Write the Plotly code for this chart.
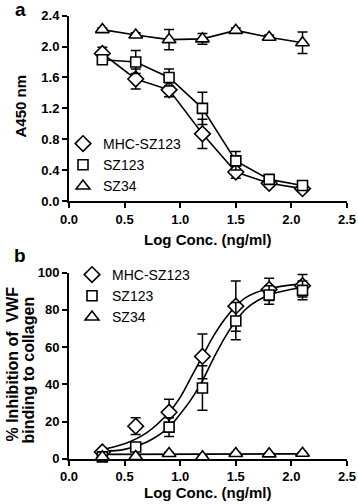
import plotly.graph_objects as go

# ---------------- data ----------------
log_conc = [0.3, 0.6, 0.9, 1.2, 1.5, 1.8, 2.1]

# panel a: A450 nm
a_mhc = [1.91, 1.58, 1.44, 0.87, 0.375, 0.23, 0.16]
a_mhc_err = [0.08, 0.13, 0.09, 0.19, 0.08, 0.05, 0.03]
a_sz123 = [1.83, 1.80, 1.60, 1.20, 0.52, 0.28, 0.20]
a_sz123_err = [0.04, 0.15, 0.11, 0.21, 0.12, 0.05, 0.03]
a_sz34 = [2.22, 2.15, 2.09, 2.10, 2.21, 2.12, 2.05]
a_sz34_err = [0.02, 0.03, 0.13, 0.07, 0.03, 0.03, 0.14]

# panel b: % inhibition of VWF binding to collagen
b_mhc = [3.6, 17.5, 25, 55, 82, 91, 93]
b_mhc_err = [1, 4.5, 7, 12, 13.5, 6, 6]
b_sz123 = [1.0, 6.3, 17, 38, 74, 88, 90.5]
b_sz123_err = [1, 2, 5, 12, 10, 5, 5]
b_sz34 = [1.0, 1.2, 2.8, 1.0, 2.8, 2.6, 2.9]
b_sz34_err = [0.5, 0.5, 0.5, 0.5, 0.5, 0.5, 0.5]

# fitted curves in panel b
fit_x = [0.3, 0.5, 0.7, 0.9, 1.0, 1.1, 1.2, 1.3, 1.4, 1.5, 1.6, 1.8, 2.1]
fit_mhc = [5, 8, 14, 25, 33, 44, 55, 66, 75, 82, 87, 91.5, 94]
fit_sz123 = [4, 5, 9, 17, 24, 32, 42, 54, 65, 74, 81, 88, 92]
fit34_x = [0.3, 2.1]
fit34_y = [2.3, 2.6]

series_names = ["MHC-SZ123", "SZ123", "SZ34"]
symbols = ["diamond", "square", "triangle-up"]
sizes = [12, 10, 12]

x_ticks = [0.0, 0.5, 1.0, 1.5, 2.0, 2.5]
ya_ticks = [0.0, 0.4, 0.8, 1.2, 1.6, 2.0, 2.4]
yb_ticks = [0, 20, 40, 60, 80, 100]

FONT = "Liberation Sans, Arial, sans-serif"
W, H = 358, 504

fig = go.Figure()

def mk(sym, size):
    return dict(symbol=sym, size=size, color="white",
                line=dict(color="black", width=1.6))

def err(arr):
    return dict(type="data", array=arr, visible=True, color="black",
                thickness=1.5, width=5)

# panel a
for name, ys, es, sym, sz in zip(series_names,
                                 [a_mhc, a_sz123, a_sz34],
                                 [a_mhc_err, a_sz123_err, a_sz34_err],
                                 symbols, sizes):
    fig.add_trace(go.Scatter(x=log_conc, y=ys, error_y=err(es),
                             mode="lines+markers", marker=mk(sym, sz),
                             line=dict(color="black", width=1.6),
                             showlegend=False, cliponaxis=False,
                             xaxis="x", yaxis="y"))

# panel b fitted curves
for cx, cy in [(fit_x, fit_mhc), (fit_x, fit_sz123), (fit34_x, fit34_y)]:
    fig.add_trace(go.Scatter(x=cx, y=cy, mode="lines",
                             line=dict(color="black", width=1.6, shape="spline"),
                             showlegend=False, hoverinfo="skip",
                             xaxis="x2", yaxis="y2"))

# panel b points
for name, ys, es, sym, sz in zip(series_names,
                                 [b_mhc, b_sz123, b_sz34],
                                 [b_mhc_err, b_sz123_err, b_sz34_err],
                                 symbols, sizes):
    fig.add_trace(go.Scatter(x=log_conc, y=ys, error_y=err(es),
                             mode="markers", marker=mk(sym, sz),
                             showlegend=False, cliponaxis=False,
                             xaxis="x2", yaxis="y2"))

# legend entries
for leg, xa, ya in [("legend", "x", "y"), ("legend2", "x2", "y2")]:
    for name, sym, sz in zip(series_names, symbols, sizes):
        fig.add_trace(go.Scatter(x=[None], y=[None], mode="markers",
                                 marker=mk(sym, sz), name=name,
                                 legend=leg, xaxis=xa, yaxis=ya))

x_dom = [69 / W, 347 / W]
ya_dom = [1 - 201 / H, 1 - 15.7 / H]
yb_dom = [1 - 458.7 / H, 1 - 272.7 / H]

axis_common = dict(showline=True, linewidth=2, linecolor="black",
                   ticks="outside", ticklen=5, tickwidth=2, tickcolor="black",
                   showgrid=False, zeroline=False, automargin=False,
                   tickfont=dict(family=FONT, size=13, color="black", weight="bold"))

fig.update_layout(
    template="none",
    width=W, height=H,
    margin=dict(l=0, r=0, t=0, b=0, pad=0),
    paper_bgcolor="white", plot_bgcolor="white",
    font=dict(family=FONT, color="black"),
    xaxis=dict(domain=x_dom, range=[0, 2.5], tickvals=x_ticks,
               tickformat=".1f", anchor="y", **axis_common),
    yaxis=dict(domain=ya_dom, range=[0, 2.4], tickvals=ya_ticks,
               tickformat=".1f", anchor="x", **axis_common),
    xaxis2=dict(domain=x_dom, range=[0, 2.5], tickvals=x_ticks,
                tickformat=".1f", anchor="y2", **axis_common),
    yaxis2=dict(domain=yb_dom, range=[0, 100], tickvals=yb_ticks,
                anchor="x2", **axis_common),
    legend=dict(x=63 / W, y=1 - 128 / H, xanchor="left", yanchor="top",
                bgcolor="rgba(0,0,0,0)", borderwidth=0,
                font=dict(family=FONT, size=14, color="black"),
                tracegroupgap=0),
    legend2=dict(x=72 / W, y=1 - 259 / H, xanchor="left", yanchor="top",
                 bgcolor="rgba(0,0,0,0)", borderwidth=0,
                 font=dict(family=FONT, size=14, color="black"),
                 tracegroupgap=0),
)

bold15 = dict(family=FONT, size=15, color="black", weight="bold")
ann = [
    dict(text="a", x=20 / W, y=1 - 9 / H, font=dict(family=FONT, size=19, color="black", weight="bold")),
    dict(text="b", x=20 / W, y=1 - 255 / H, font=dict(family=FONT, size=19, color="black", weight="bold")),
    dict(text="Log Conc. (ng/ml)", x=207 / W, y=1 - 239 / H, font=bold15),
    dict(text="Log Conc. (ng/ml)", x=207 / W, y=1 - 492 / H, font=bold15),
    dict(text="A450 nm", x=20 / W, y=1 - 106.5 / H, textangle=-90, font=bold15),
    dict(text="% Inhibition of \u00a0VWF", x=12 / W, y=1 - 364.5 / H, textangle=-90,
         font=dict(family=FONT, size=16, color="black", weight="bold")),
    dict(text="binding to collagen", x=28 / W, y=1 - 370.5 / H, textangle=-90,
         font=dict(family=FONT, size=16, color="black", weight="bold")),
]
for a in ann:
    fig.add_annotation(xref="paper", yref="paper", showarrow=False,
                       xanchor="center", yanchor="middle", **a)

fig.write_html("out.html",
               config={"displayModeBar": False},
               post_script="document.body.style.margin='0px';document.body.style.overflow='hidden';")
